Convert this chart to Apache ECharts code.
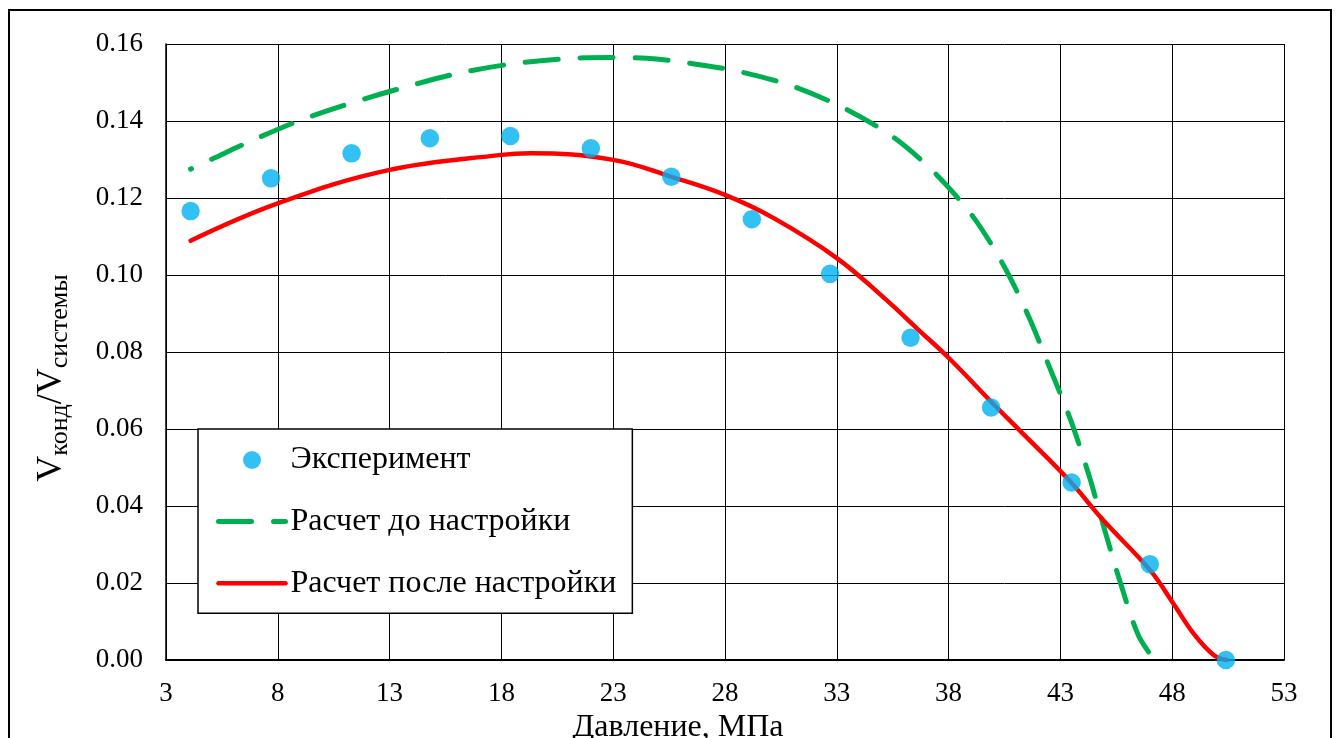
<!DOCTYPE html>
<html>
<head>
<meta charset="utf-8">
<title>Vконд/Vсистемы — Давление</title>
<script src="https://cdn.jsdelivr.net/npm/echarts@6/dist/echarts.min.js"></script>
<style>
  html, body { margin: 0; padding: 0; background: #fff; }
  #chart { width: 1337px; height: 738px; }
</style>
</head>
<body>
<div id="chart"></div>
<script>
// Experimental points: pressure (MPa) and condensate volume fraction
const pressureExp = [4.1, 7.7, 11.3, 14.8, 18.4, 22.0, 25.6, 29.2, 32.7, 36.3, 39.9, 43.5, 47.0, 50.4];
const ratioExp    = [0.1166, 0.1251, 0.1316, 0.1355, 0.1361, 0.1329, 0.1255, 0.1145, 0.1003, 0.0837, 0.0656, 0.0461, 0.0249, 0.0];

// Model before tuning
const pressureBefore = [4.1, 5.13, 6.64, 8.96, 11.36, 13.75, 16.23, 18.7, 21.18, 22.86, 24.5, 26.21, 28.67, 31.05, 33.44, 35.6, 37.47, 39.1, 40.45, 41.56, 42.53, 43.46, 44.25, 44.92, 45.67, 46.48, 47.2];
const ratioBefore    = [0.1275, 0.1303, 0.1344, 0.1401, 0.1448, 0.1489, 0.1526, 0.155, 0.1563, 0.1565, 0.1563, 0.1552, 0.1528, 0.149, 0.143, 0.1355, 0.126, 0.1151, 0.1026, 0.0895, 0.0758, 0.0623, 0.0485, 0.035, 0.0203, 0.0065, 0.0];

// Model after tuning
const pressureAfter = [4.1, 8.0, 13.0, 18.0, 19.3, 23.0, 25.6, 28.0, 30.2, 33.0, 35.2, 36.7, 38.0, 40.0, 41.2, 43.4, 44.9, 47.0, 48.05, 48.95, 49.85, 50.44];
const ratioAfter    = [0.1089, 0.1186, 0.1273, 0.1312, 0.1316, 0.1299, 0.1255, 0.1208, 0.1147, 0.1044, 0.0936, 0.0855, 0.0785, 0.0665, 0.0595, 0.0466, 0.0364, 0.0234, 0.0147, 0.0069, 0.0013, 0.0];

// Axis settings
const xTicks = { min: 3, max: 53, step: 5 };
const yTicks = { min: 0, max: 0.16, step: 0.02 };

const seriesNames = ['Эксперимент', 'Расчет до настройки', 'Расчет после настройки'];
const xTitle = 'Давление, МПа';

const FONT = "'Liberation Serif', 'Times New Roman', serif";

const pairs = (xs, ys) => xs.map((x, i) => [x, ys[i]]);

const chart = echarts.init(document.getElementById('chart'), null, { renderer: 'canvas' });

chart.setOption({
  animation: false,
  backgroundColor: '#fff',
  grid: { left: 166, right: 53, top: 44, bottom: 78, containLabel: false, outerBoundsMode: 'none' },
  xAxis: {
    type: 'value',
    min: xTicks.min, max: xTicks.max, interval: xTicks.step,
    name: xTitle,
    nameLocation: 'middle',
    nameGap: 39,
    nameTextStyle: { fontFamily: FONT, fontSize: 32, color: '#000', padding: [0, 94, 0, 0] },
    axisLine: { show: true, onZero: false, lineStyle: { color: '#000', width: 2 } },
    axisTick: { show: false },
    axisLabel: { fontFamily: FONT, fontSize: 27, color: '#000', margin: 20 },
    splitLine: { show: true, lineStyle: { color: '#000', width: 1 } }
  },
  yAxis: {
    type: 'value',
    min: yTicks.min, max: yTicks.max, interval: yTicks.step,
    axisLine: { show: true, onZero: false, lineStyle: { color: '#000', width: 1.5 } },
    axisTick: { show: false },
    axisLabel: {
      fontFamily: FONT, fontSize: 27, color: '#000', margin: 23,
      formatter: v => v.toFixed(2)
    },
    splitLine: { show: true, lineStyle: { color: '#000', width: 1 } }
  },
  legend: {
    orient: 'vertical',
    left: 198,
    top: 429,
    padding: [15, 16, 14, 18],
    itemGap: 29.6,
    itemWidth: 67,
    itemHeight: 18,
    backgroundColor: '#fff',
    borderColor: '#000',
    borderWidth: 1.5,
    borderRadius: 0,
    textStyle: { fontFamily: FONT, fontSize: 32, color: '#000', lineHeight: 32 },
    data: [
      { name: seriesNames[0], icon: 'circle' },
      {
        name: seriesNames[1],
        lineStyle: { width: 5, dashOffset: 0 },
        itemStyle: { color: 'rgba(0,0,0,0)', borderWidth: 0, opacity: 0 }
      },
      {
        name: seriesNames[2],
        lineStyle: { width: 4.5 },
        itemStyle: { color: 'rgba(0,0,0,0)', borderWidth: 0, opacity: 0 }
      }
    ]
  },
  graphic: [
    {
      // outer frame
      type: 'rect',
      silent: true,
      shape: { x: 9, y: 10, width: 1322, height: 760 },
      style: { fill: 'none', stroke: '#000', lineWidth: 2 },
      z: 100
    },
    {
      // y-axis title with subscripts
      type: 'text',
      silent: true,
      x: 52,
      y: 378,
      rotation: Math.PI / 2,
      style: {
        text: '{v|V}{s|конд}{v|/V}{s|системы}',
        align: 'center',
        verticalAlign: 'middle',
        fill: '#000',
        rich: {
          v: { fontFamily: FONT, fontSize: 36, lineHeight: 42, fill: '#000' },
          s: { fontFamily: FONT, fontSize: 26, lineHeight: 26, padding: [16, 0, 0, 0], fill: '#000' }
        }
      }
    }
  ],
  series: [
    {
      name: seriesNames[0],
      type: 'scatter',
      data: pairs(pressureExp, ratioExp),
      symbol: 'circle',
      symbolSize: 18.5,
      itemStyle: { color: '#00B0F0' },
      z: 5
    },
    {
      name: seriesNames[1],
      type: 'line',
      data: pairs(pressureBefore, ratioBefore),
      smooth: 0.3,
      symbol: 'none',
      showSymbol: false,
      itemStyle: { color: '#00B050' },
      lineStyle: { color: '#00B050', width: 5, type: [33, 22], dashOffset: 32, cap: 'round' },
      z: 3
    },
    {
      name: seriesNames[2],
      type: 'line',
      data: pairs(pressureAfter, ratioAfter),
      smooth: 0.4,
      symbol: 'none',
      showSymbol: false,
      itemStyle: { color: '#FF0000' },
      lineStyle: { color: '#FF0000', width: 4.5, cap: 'round' },
      z: 4
    }
  ]
});
</script>
</body>
</html>
